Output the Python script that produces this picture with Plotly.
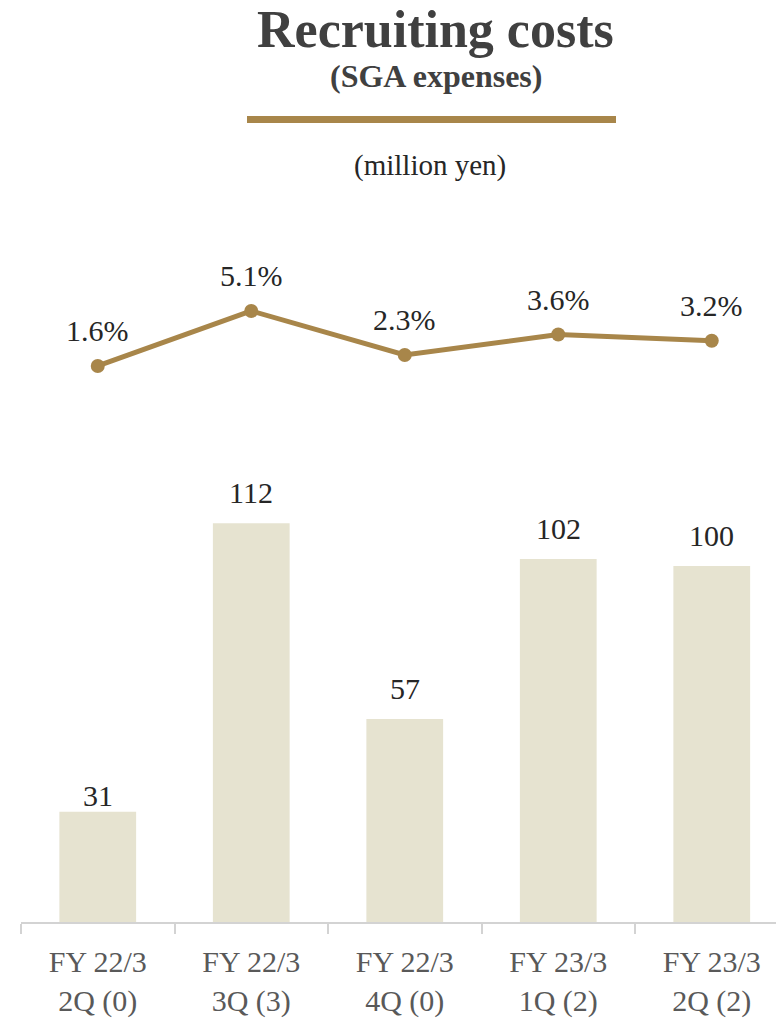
import plotly.graph_objects as go

# Quarterly recruiting costs (SGA expenses), million yen
categories = ["FY 22/3<br>2Q (0)", "FY 22/3<br>3Q (3)", "FY 22/3<br>4Q (0)",
              "FY 23/3<br>1Q (2)", "FY 23/3<br>2Q (2)"]
costs = [31, 112, 57, 102, 100]
ratio_pct = [1.6, 5.1, 2.3, 3.6, 3.2]
ratio_labels = ["1.6%", "5.1%", "2.3%", "3.6%", "3.2%"]

# vertical gap (px) between each bar top and its value label
label_gap = [-2, 12, 12, 12, 12]

GOLD = "#A8864A"
BAR = "#E6E3D0"
SERIF = "Liberation Serif, Times New Roman, serif"

W, H = 776, 1018
L, R, T, B = 21, 0, 0, 96
pw, ph = W - L - R, H - T - B

fig = go.Figure()

fig.add_trace(go.Bar(
    x=categories, y=costs, marker=dict(color=BAR, line=dict(width=0)),
    width=0.5, yaxis="y", hoverinfo="skip",
))
fig.add_trace(go.Scatter(
    x=categories, y=ratio_pct, mode="lines+markers", yaxis="y2",
    line=dict(color=GOLD, width=5), marker=dict(color=GOLD, size=14),
    hoverinfo="skip",
))

annotations = []
for c, v, g in zip(categories, costs, label_gap):
    annotations.append(dict(
        x=c, y=v, xref="x", yref="y", text=str(v), showarrow=False,
        yanchor="bottom", yshift=g,
        font=dict(family=SERIF, size=30, color="#262626"),
    ))
for c, v, t in zip(categories, ratio_pct, ratio_labels):
    annotations.append(dict(
        x=c, y=v, xref="x", yref="y2", text=t, showarrow=False,
        yanchor="bottom", yshift=17,
        font=dict(family=SERIF, size=30, color="#262626"),
    ))


def px_x(x):
    return (x - L) / pw


def px_y(y):
    return (H - y - B) / ph


# Heading block: (text, centre x, top y, size, colour)
for text, cx, ty, size, color in [
    ("<b>Recruiting costs</b>", 435, 0, 52, "#404040"),
    ("<b>(SGA expenses)</b>", 436, 57, 32, "#404040"),
    ("(million yen)", 430, 148, 29, "#262626"),
]:
    annotations.append(dict(
        x=px_x(cx), y=px_y(ty), xref="paper", yref="paper", text=text,
        showarrow=False, xanchor="center", yanchor="top", borderpad=0,
        font=dict(family=SERIF, size=size, color=color),
    ))

fig.update_layout(
    width=W, height=H, autosize=False,
    margin=dict(l=L, r=R, t=T, b=B),
    paper_bgcolor="white", plot_bgcolor="white",
    showlegend=False,
    annotations=annotations,
    shapes=[dict(type="line", xref="paper", yref="paper",
                 x0=px_x(247), x1=px_x(616), y0=px_y(119.5), y1=px_y(119.5),
                 line=dict(color=GOLD, width=7))],
    xaxis=dict(
        type="category", range=[-0.5, -0.5 + pw / 153.5],
        showline=True, linecolor="#D3D3D3", linewidth=2,
        ticks="outside", tickson="boundaries", ticklen=10, tickwidth=2,
        tickcolor="#D3D3D3", showgrid=False, zeroline=False,
        ticklabelstandoff=12,
        tickfont=dict(family=SERIF, size=30, color="#595959"),
    ),
    yaxis=dict(range=[0, ph / 3.56], visible=False, showgrid=False),
    yaxis2=dict(range=[-(ph - 391.1) / 15.714, 391.1 / 15.714], overlaying="y",
                visible=False, showgrid=False),
)

fig.write_html("out.html")
